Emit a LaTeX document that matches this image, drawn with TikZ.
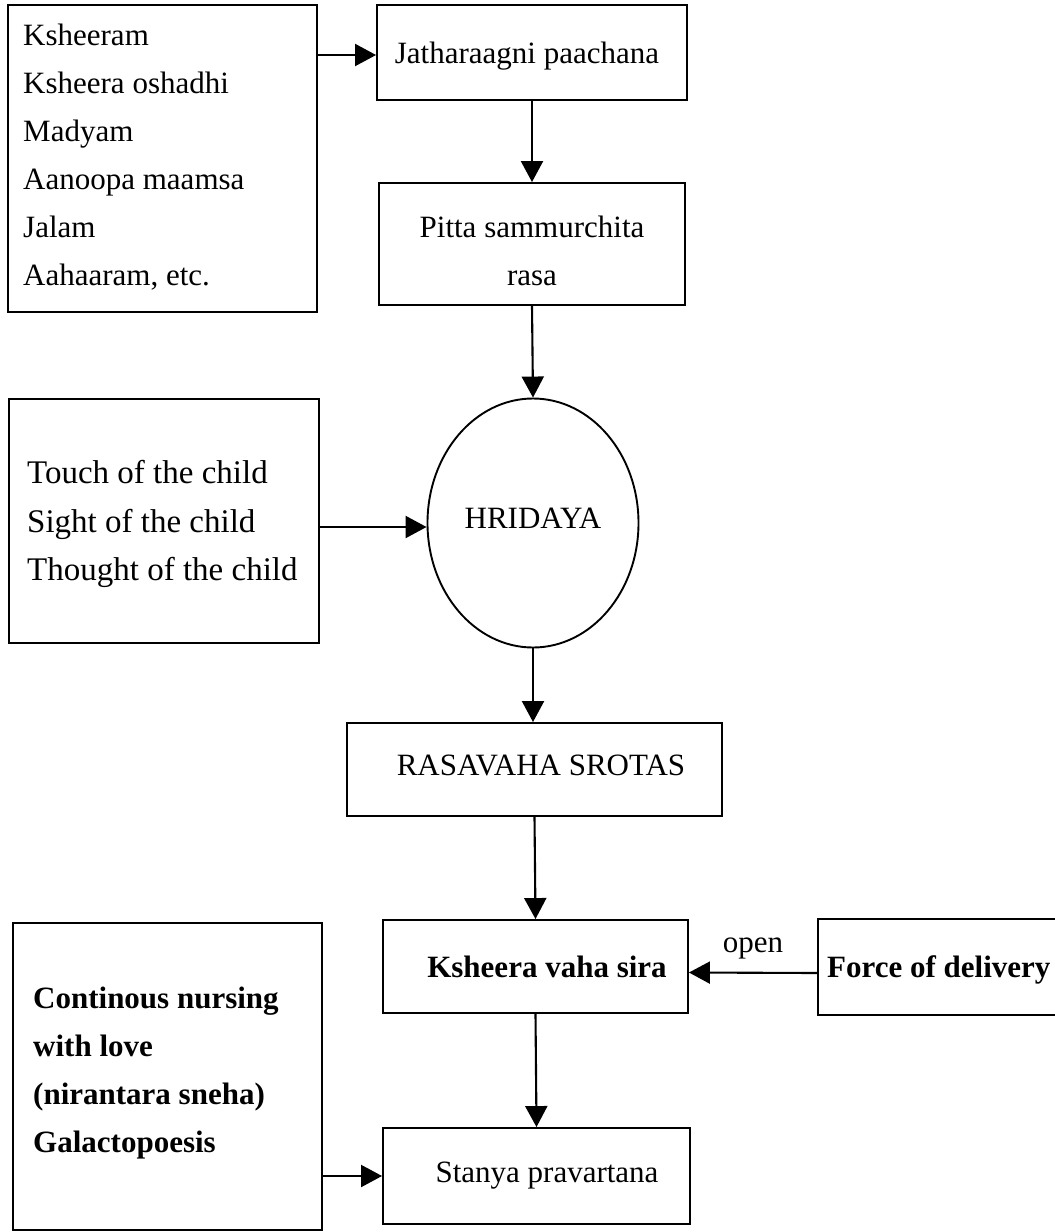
\documentclass[tikz,border=0pt]{standalone}
\usepackage{fontspec}
\setmainfont{Liberation Serif}
\usetikzlibrary{shapes.geometric,arrows.meta}
\begin{document}
\begin{tikzpicture}[x=1pt,y=-1pt,
  box/.style={draw, line width=1.9pt, inner sep=0pt},
  label text/.style={inner sep=0pt, font=\fontsize{31}{48}\selectfont},
  bold text/.style={label text, font=\fontsize{31}{48}\selectfont\bfseries},
  flow/.style={line width=2.1pt, -{Triangle[length=21pt,width=22pt]}}
]
\useasboundingbox (0,0) rectangle (1055,1232);

% --- boxes ---
\node[box, minimum width=309pt, minimum height=307pt] (ingr) at (162.5,158.5) {};
\node[box, minimum width=310pt, minimum height=95pt] (jath) at (532,52.5) {};
\node[box, minimum width=306pt, minimum height=122pt] (pitta) at (532,244) {};
\node[draw, ellipse, line width=1.9pt, inner sep=0pt,
      minimum width=211pt, minimum height=249pt] (hrid) at (533,523) {};
\node[box, minimum width=310pt, minimum height=244pt] (touch) at (164,521) {};
\node[box, minimum width=375pt, minimum height=93pt] (ras) at (534.5,769.5) {};
\node[box, minimum width=305pt, minimum height=93pt] (ksh) at (535.5,966.5) {};
\node[inner sep=0pt, minimum width=237pt, minimum height=96pt] (force) at (936.5,967) {};
\draw[line width=1.9pt] (force.north east) -- (force.north west)
  -- (force.south west) -- (force.south east);
\node[box, minimum width=309pt, minimum height=307pt] (cont) at (167.5,1076.5) {};
\node[box, minimum width=307pt, minimum height=96pt] (stanya) at (536.5,1176) {};

% --- texts ---
\node[label text, anchor=north west, align=left] (ingrT) at (23,23.8)
  {Ksheeram\\Ksheera oshadhi\\Madyam\\Aanoopa maamsa\\Jalam\\Aahaaram, etc.};
\node[label text, anchor=base] (jathT) at (527,63) {Jatharaagni paachana};
\node[label text, anchor=north, align=center] (pittaT) at (532,215.8)
  {Pitta sammurchita\\rasa};
\node[label text, anchor=base] (hridT) at (533,528) {HRIDAYA};
\node[inner sep=0pt, font=\fontsize{33}{48.5}\selectfont, anchor=north west, align=left]
  (touchT) at (27,460.5)
  {Touch of the child\\Sight of the child\\Thought of the child};
\node[label text, anchor=base] (rasT) at (541,775) {RASAVAHA SROTAS};
\node[bold text, anchor=base] (kshT) at (547,977) {Ksheera vaha sira};
\node[bold text, anchor=base west] (forceT) at (827,977) {Force of delivery};
\node[label text, anchor=base] (openT) at (753,952) {open};
\node[bold text, anchor=north west, align=left] (contT) at (33,986.8)
  {Continous nursing\\with love\\(nirantara sneha)\\Galactopoesis};
\node[label text, anchor=base] (stanyaT) at (547,1182) {Stanya pravartana};

% --- connectors ---
\draw[flow] ([yshift=-2.5pt]jath.west -| ingr.east) -- ([yshift=-2.5pt]jath.west);
\draw[flow] (jath.south) -- (pitta.north);
\draw[flow] (pitta.south) -- (hrid.north);
\draw[flow] ([yshift=-4pt]hrid.west -| touch.east) -- ([yshift=-4pt]hrid.west);
\draw[flow] (hrid.south) -- (hrid.south |- ras.north);
\draw[flow] (ras.south) -- (ksh.north);
\draw[flow] ([yshift=-6pt]force.west) -- ([yshift=-6pt]ksh.east);
\draw[flow] (ksh.south) -- (stanya.north);
\draw[flow] (stanya.west -| cont.east) -- (stanya.west);
\end{tikzpicture}
\end{document}
